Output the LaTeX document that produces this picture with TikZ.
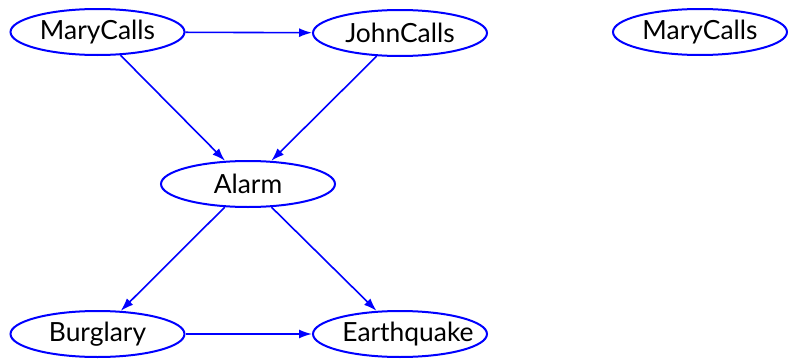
\documentclass[tikz,border=0pt]{standalone}
\usepackage{fontspec}
\setmainfont{Lato}
\usetikzlibrary{shapes.geometric,arrows.meta}
\newcommand{\nolab}[1]{\makebox[0pt][c]{#1}}
\begin{document}
\begin{tikzpicture}[x=1pt,y=1pt,
  var/.style={ellipse,draw=blue,line width=2pt,minimum width=174pt,minimum height=46pt,inner sep=0pt,font=\fontsize{26.4}{30}\selectfont},
  edge/.style={draw=blue,line width=1.6pt,-{Latex[length=13pt,width=9pt]}}]
\useasboundingbox (0,0) rectangle (788,360);
\node[var] (mary) at (97.5,328) {\nolab{MaryCalls}};
\node[var] (john) at (400,327) {\nolab{JohnCalls}};
\node[var] (mary2) at (700,328) {\nolab{MaryCalls}};
\node[var] (alarm) at (248,176) {\nolab{Alarm}};
\node[var] (burg) at (97.5,26) {\nolab{Burglary}};
\node[var] (earth) at (400,26) {\nolab{\hspace*{16pt}Earthquake}};
\draw[edge] (mary) -- (john);
\draw[edge] (mary) -- (alarm);
\draw[edge] (john) -- (alarm);
\draw[edge] (alarm) -- (burg);
\draw[edge] (alarm) -- (earth);
\draw[edge] (burg) -- (earth);
\end{tikzpicture}
\end{document}
